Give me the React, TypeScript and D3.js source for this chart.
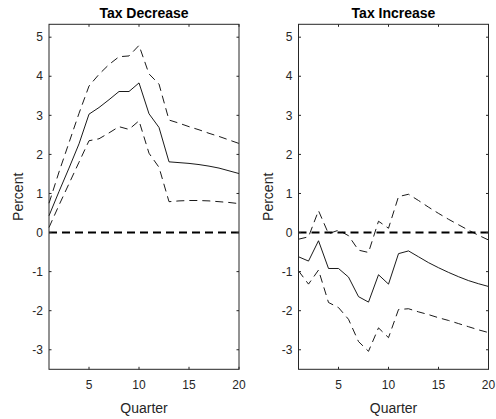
import * as d3 from 'd3'

const quarters = d3.range(1, 21)

const decMid = [0.43, 1.05, 1.65, 2.27, 3.03, 3.2, 3.4, 3.61, 3.61, 3.83, 3.04, 2.69, 1.81, 1.79, 1.77, 1.74, 1.7, 1.65, 1.58, 1.51]
const decHi = [0.75, 1.55, 2.3, 3.05, 3.75, 4.05, 4.3, 4.5, 4.52, 4.79, 4.06, 3.8, 2.88, 2.8, 2.71, 2.63, 2.54, 2.46, 2.37, 2.28]
const decLo = [0.13, 0.7, 1.25, 1.8, 2.35, 2.4, 2.55, 2.71, 2.64, 2.86, 2.03, 1.67, 0.79, 0.81, 0.82, 0.82, 0.81, 0.79, 0.77, 0.74]

const incMid = [-0.62, -0.73, -0.21, -0.92, -0.92, -1.14, -1.64, -1.78, -1.08, -1.32, -0.54, -0.47, -0.62, -0.77, -0.9, -1.02, -1.13, -1.23, -1.31, -1.38]
const incHi = [-0.17, -0.11, 0.56, -0.03, 0.06, -0.08, -0.45, -0.51, 0.29, 0.11, 0.92, 0.98, 0.82, 0.65, 0.49, 0.34, 0.2, 0.06, -0.07, -0.19]
const incLo = [-0.98, -1.32, -0.96, -1.79, -1.92, -2.22, -2.79, -3.04, -2.44, -2.69, -1.97, -1.95, -2.03, -2.1, -2.18, -2.25, -2.33, -2.41, -2.49, -2.56]

const yTicks = [-3, -2, -1, 0, 1, 2, 3, 4, 5]
const xTicks = [5, 10, 15, 20]

const panels = [
  { title: 'Tax Decrease', mid: decMid, hi: decHi, lo: decLo, left: 49 },
  { title: 'Tax Increase', mid: incMid, hi: incHi, lo: incLo, left: 298.5 },
]

const W = 496
const H = 419
const top = 24.3
const bottom = 369.3
const pw = 190
const font = 'Liberation Sans, Arial, Helvetica, sans-serif'
const ink = '#262626'

function Panel({ p }: { p: typeof panels[number] }) {
  const x = d3.scaleLinear().domain([1, 20]).range([p.left, p.left + pw])
  const y = d3.scaleLinear().domain([-3.5, 5.33]).range([bottom, top])
  const line = (vals: number[]) =>
    d3.line<number>().x((_, i) => x(quarters[i])).y(v => y(v))(vals) ?? ''
  const cx = p.left + pw / 2
  return (
    <g>
      <text x={cx} y={18} textAnchor="middle" fontWeight="bold" fontSize={14} fill="#000">{p.title}</text>
      <line x1={x(1)} x2={x(20)} y1={y(0)} y2={y(0)} stroke="#000" strokeWidth={2} strokeDasharray="8,5" />
      <path d={line(p.hi)} fill="none" stroke="#000" strokeWidth={0.9} strokeDasharray="8,5" />
      <path d={line(p.lo)} fill="none" stroke="#000" strokeWidth={0.9} strokeDasharray="8,5" />
      <path d={line(p.mid)} fill="none" stroke="#000" strokeWidth={0.9} />
      <rect x={x(1)} y={top} width={pw} height={bottom - top} fill="none" stroke={ink} strokeWidth={1} />
      {yTicks.map(t => (
        <g key={'y' + t}>
          <line x1={x(1)} x2={x(1) + 2.5} y1={y(t)} y2={y(t)} stroke={ink} />
          <line x1={x(20)} x2={x(20) - 2.5} y1={y(t)} y2={y(t)} stroke={ink} />
          <text x={x(1) - 6} y={y(t)} dy="0.35em" textAnchor="end" fontSize={12} fill={ink}>{t}</text>
        </g>
      ))}
      {xTicks.map(t => (
        <g key={'x' + t}>
          <line x1={x(t)} x2={x(t)} y1={bottom} y2={bottom - 2.5} stroke={ink} />
          <line x1={x(t)} x2={x(t)} y1={top} y2={top + 2.5} stroke={ink} />
          <text x={x(t)} y={385} dy="0.35em" textAnchor="middle" fontSize={12} fill={ink}>{t}</text>
        </g>
      ))}
      <text x={cx} y={413} textAnchor="middle" fontSize={14} fill={ink}>Quarter</text>
      <text transform={`translate(${p.left - 26},${(top + bottom) / 2}) rotate(-90)`} textAnchor="middle" fontSize={14} fill={ink}>Percent</text>
    </g>
  )
}

export default function App() {
  return (
    <svg width={W} height={H} style={{ position: 'absolute', left: 0, top: 0, background: '#fff' }} fontFamily={font}>
      {panels.map(p => <Panel key={p.title} p={p} />)}
    </svg>
  )
}
